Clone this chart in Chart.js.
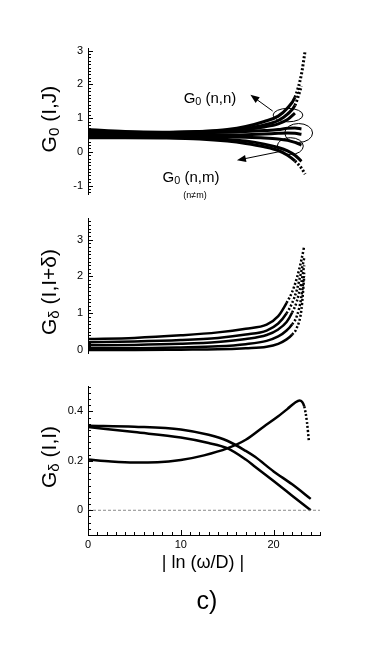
<!DOCTYPE html>
<html>
<head>
<style type="text/css">
body{ margin:0; background:#fff; font-family:"Liberation Sans", Arial, sans-serif; }
#wrap{ position:relative; width:382px; height:647px; overflow:hidden; }
canvas{ position:absolute; left:0; }
.t{ position:absolute; color:#000; white-space:nowrap; transform:translate(-50%,-50%); line-height:1; }
.yt{ position:absolute; color:#000; white-space:nowrap; font-size:21px; line-height:1; transform:translate(-50%,-50%) rotate(-90deg); }
sub{ font-size:72%; vertical-align:-0.2em; line-height:0; }
</style>
<title>G functions</title>
<script type="text/javascript" src="https://cdn.jsdelivr.net/npm/chart.js@4/dist/chart.umd.min.js"></script>
</head>
<body>
<div id="wrap">
  <canvas id="p1" width="382" height="218" style="top:0px"></canvas>
  <canvas id="p2" width="382" height="170" style="top:207px"></canvas>
  <canvas id="p3" width="382" height="180" style="top:375px"></canvas>

  <div class="yt" style="left:48px; top:119px;">G<sub>0</sub> (I,J)</div>
  <div class="yt" style="left:48px; top:292px;">G<sub>δ</sub> (I,I+δ)</div>
  <div class="yt" style="left:48px; top:457px;">G<sub>δ</sub> (I,I)</div>

  <div class="t" style="left:210px; top:97px; font-size:15px;">G<sub>0</sub> (n,n)</div>
  <div class="t" style="left:191px; top:176px; font-size:15px;">G<sub>0</sub> (n,m)</div>
  <div class="t" style="left:195px; top:195px; font-size:9px;">(n≠m)</div>

  <div class="t" style="left:203px; top:562px; font-size:18px;">| ln (ω/D) |</div>
  <div class="t" style="left:207px; top:600px; font-size:25px;">c)</div>
</div>
<script type="text/javascript">
    // top panel: G0(I,J)
    var P1_X = [0, 4, 8, 12, 15, 17, 19, 20.5, 21.5, 22.3, 23, 23.4];
    var G0_NN_1 = [0.55, 0.55, 0.56, 0.60, 0.66, 0.75, 0.90, 1.06, 1.30, 1.62, 2.30, 3.00];
    var G0_NN_2 = [0.50, 0.50, 0.52, 0.56, 0.62, 0.69, 0.80, 0.93, 1.12, 1.38, 1.95];
    var G0_NN_3 = [0.66, 0.60, 0.58, 0.60, 0.63, 0.67, 0.74, 0.83, 0.96, 1.15];
    var G0_NM_1 = [0.60, 0.58, 0.57, 0.57, 0.58, 0.60, 0.63, 0.66, 0.70, 0.71, 0.68];
    var G0_NM_2 = [0.50, 0.50, 0.50, 0.50, 0.50, 0.51, 0.53, 0.55, 0.56, 0.55, 0.52];
    var G0_NM_3 = [0.45, 0.45, 0.45, 0.45, 0.44, 0.43, 0.41, 0.38, 0.34, 0.28, 0.20];
    var G0_NM_4 = [0.45, 0.44, 0.43, 0.41, 0.37, 0.32, 0.23, 0.13, 0.03, -0.10, -0.28];
    var G0_NM_5 = [0.42, 0.42, 0.41, 0.38, 0.32, 0.25, 0.15, 0.04, -0.10, -0.27, -0.48, -0.66];
    var P1_Y_LABELS = [-1, 0, 1, 2, 3];

    // middle panel: Gdelta(I,I+delta)
    var P2_X = [0, 5, 10, 14, 17, 19.25, 20.5, 21.4, 22, 22.5, 23, 23.3];
    var GD_1 = [0.30, 0.33, 0.40, 0.48, 0.58, 0.69, 0.92, 1.28, 1.58, 1.95, 2.45, 2.82];
    var GD_2 = [0.21, 0.23, 0.27, 0.33, 0.42, 0.53, 0.72, 1.00, 1.28, 1.63, 2.15, 2.50];
    var GD_3 = [0.13, 0.14, 0.17, 0.22, 0.30, 0.41, 0.56, 0.76, 1.02, 1.32, 1.85, 2.30];
    var GD_4 = [0.05, 0.05, 0.07, 0.10, 0.16, 0.25, 0.37, 0.53, 0.70, 0.92, 1.45, 2.10];
    var GD_5 = [0.00, 0.00, 0.01, 0.02, 0.05, 0.09, 0.17, 0.29, 0.42, 0.60, 1.10, 2.00];
    var P2_Y_LABELS = [0, 1, 2, 3];

    // bottom panel: Gdelta(I,I)
    var P3_PEAK_X = [0, 2.5, 5, 7.5, 10, 12.5, 15, 17, 19, 20.5, 21.5, 22.3, 22.8, 23.3, 23.6, 23.8];
    var GII_PEAK = [0.205, 0.197, 0.193, 0.194, 0.203, 0.222, 0.250, 0.285, 0.340, 0.380, 0.410, 0.435, 0.444, 0.420, 0.355, 0.280];
    var P3_X = [0, 5, 10, 13, 15, 17, 18, 20, 22, 24];
    var GII_UP = [0.342, 0.338, 0.327, 0.305, 0.281, 0.240, 0.216, 0.157, 0.105, 0.046];
    var GII_LOW = [0.337, 0.316, 0.294, 0.272, 0.251, 0.205, 0.176, 0.118, 0.059, 0.000];
    var ZERO_X = [0, 25];
    var ZERO_Y = [0, 0];
    var P3_Y_LABELS = [0, 0.2, 0.4];
    var X_LABELS = [0, 10, 20];

    var FONT = '"Liberation Sans", Arial, sans-serif';

    function pts(xs, ys) {
        return ys.map(function (y, i) { return { x: xs[i], y: y }; });
    }

    function curve(xs, ys, dotFrom, width) {
        return {
            data: pts(xs, ys),
            borderColor: '#000',
            borderWidth: width || 2.5,
            pointRadius: 0,
            fill: false,
            cubicInterpolationMode: 'monotone',
            segment: {
                borderDash: function (ctx) {
                    return (dotFrom !== undefined && dotFrom !== null && ctx.p0.parsed.x >= dotFrom) ? [2, 2] : undefined;
                }
            }
        };
    }

    function stepTicks(min, max, step) {
        var out = [];
        for (var k = Math.ceil(min / step - 1e-9); k * step <= max + 1e-9; k++) {
            out.push({ value: Math.round(k * step * 1000) / 1000 });
        }
        return out;
    }

    // short inward tick marks, longer on labelled values
    function tickMarks(yLabels, xLabels) {
        return {
            id: 'tickMarks',
            afterDraw: function (chart) {
                var ctx = chart.ctx, a = chart.chartArea;
                var ys = chart.scales.y, xs = chart.scales.x;
                ctx.save();
                ctx.strokeStyle = '#000';
                ctx.lineWidth = 1;
                ctx.beginPath();
                ys.ticks.forEach(function (t) {
                    var p = Math.round(ys.getPixelForValue(t.value)) + 0.5;
                    var len = yLabels.indexOf(t.value) >= 0 ? 5 : 3;
                    ctx.moveTo(a.left, p);
                    ctx.lineTo(a.left + len, p);
                });
                if (xLabels) {
                    xs.ticks.forEach(function (t) {
                        var p = Math.round(xs.getPixelForValue(t.value)) + 0.5;
                        var len = xLabels.indexOf(t.value) >= 0 ? 5 : 3;
                        ctx.moveTo(p, a.bottom);
                        ctx.lineTo(p, a.bottom - len);
                    });
                }
                ctx.stroke();
                ctx.restore();
            }
        };
    }

    // loops and arrows of the top panel
    var loops = {
        id: 'loops',
        afterDatasetsDraw: function (chart) {
            var ctx = chart.ctx, xs = chart.scales.x, ys = chart.scales.y;
            function px(v) { return xs.getPixelForValue(v); }
            function py(v) { return ys.getPixelForValue(v); }
            ctx.save();
            ctx.strokeStyle = '#000';
            ctx.fillStyle = '#000';
            ctx.lineWidth = 1;
            [[21.55, 1.09, 1.6, 0.2], [22.7, 0.56, 1.5, 0.28], [21.8, 0.17, 1.4, 0.25]].forEach(function (e) {
                ctx.beginPath();
                ctx.ellipse(px(e[0]), py(e[1]), px(e[0] + e[2]) - px(e[0]), py(e[1]) - py(e[1] + e[3]), 0, 0, Math.PI * 2);
                ctx.stroke();
            });
            [[19.9, 1.21, 17.5, 1.69], [20.7, 0.01, 16.05, -0.25]].forEach(function (r) {
                var x1 = px(r[0]), y1 = py(r[1]), x2 = px(r[2]), y2 = py(r[3]);
                var ang = Math.atan2(y2 - y1, x2 - x1);
                ctx.beginPath();
                ctx.moveTo(x1, y1);
                ctx.lineTo(x2 - 6 * Math.cos(ang), y2 - 6 * Math.sin(ang));
                ctx.stroke();
                ctx.beginPath();
                ctx.moveTo(x2, y2);
                ctx.lineTo(x2 - 9 * Math.cos(ang) + 3.5 * Math.sin(ang), y2 - 9 * Math.sin(ang) - 3.5 * Math.cos(ang));
                ctx.lineTo(x2 - 9 * Math.cos(ang) - 3.5 * Math.sin(ang), y2 - 9 * Math.sin(ang) + 3.5 * Math.cos(ang));
                ctx.closePath();
                ctx.fill();
            });
            ctx.restore();
        }
    };

    function panel(id, datasets, yMin, yMax, yStep, yLabels, pad, xLabels, extra) {
        var plugins = [tickMarks(yLabels, xLabels)].concat(extra || []);
        return new Chart(document.getElementById(id).getContext('2d'), {
            type: 'line',
            data: { datasets: datasets },
            options: {
                responsive: false,
                animation: false,
                events: [],
                layout: { padding: pad },
                plugins: { legend: { display: false }, tooltip: { enabled: false } },
                scales: {
                    x: {
                        type: 'linear', min: 0, max: 25,
                        display: !!xLabels,
                        grid: { display: false, drawTicks: false },
                        border: { display: true, color: '#000', width: 1 },
                        afterBuildTicks: function (s) { s.ticks = stepTicks(0, 25, 1); },
                        afterFit: function (s) { s.height = 16; },
                        ticks: {
                            autoSkip: false, maxRotation: 0, padding: 3, color: '#000',
                            font: { size: 11, family: FONT },
                            callback: function (v) { return (xLabels && xLabels.indexOf(v) >= 0) ? String(v) : ''; }
                        }
                    },
                    y: {
                        type: 'linear', min: yMin, max: yMax,
                        grid: { display: false, drawTicks: false },
                        border: { display: true, color: '#000', width: 1 },
                        afterBuildTicks: function (s) { s.ticks = stepTicks(yMin, yMax, yStep); },
                        afterFit: function (s) { s.width = 88; },
                        ticks: {
                            autoSkip: false, padding: 5, color: '#000',
                            font: { size: 11, family: FONT },
                            callback: function (v) { return yLabels.indexOf(v) >= 0 ? String(v) : ''; }
                        }
                    }
                }
            },
            plugins: plugins
        });
    }

    panel('p1', [
        curve(P1_X, G0_NN_1, 22.3, 3),
        curve(P1_X, G0_NN_2, 22.3, 3),
        curve(P1_X, G0_NN_3, null, 3),
        curve(P1_X, G0_NM_1, null, 3),
        curve(P1_X, G0_NM_2, null, 3),
        curve(P1_X, G0_NM_3, null, 3),
        curve(P1_X, G0_NM_4, null, 3),
        curve(P1_X, G0_NM_5, 22.3, 3)
    ], -1.25, 3.08, 0.1, P1_Y_LABELS, { top: 48, bottom: 8, left: 0, right: 62 }, null, [loops]);

    panel('p2', [
        curve(P2_X, GD_1, 21.4),
        curve(P2_X, GD_2, 21.4),
        curve(P2_X, GD_3, 22),
        curve(P2_X, GD_4, 22),
        curve(P2_X, GD_5, 22)
    ], -0.08, 3.57, 0.1, P2_Y_LABELS, { top: 8, bottom: 8, left: 0, right: 62 }, null);

    var zero = {
        data: pts(ZERO_X, ZERO_Y),
        borderColor: '#8a8a8a', borderWidth: 1, borderDash: [3, 2], pointRadius: 0, fill: false
    };
    panel('p3', [
        zero,
        curve(P3_PEAK_X, GII_PEAK, 23.3),
        curve(P3_X, GII_UP),
        curve(P3_X, GII_LOW)
    ], -0.1, 0.5, 0.025, P3_Y_LABELS, { top: 8, bottom: 4, left: 0, right: 62 }, X_LABELS);
</script>
</body>
</html>
